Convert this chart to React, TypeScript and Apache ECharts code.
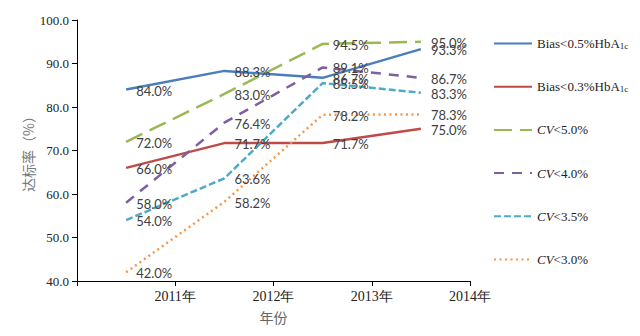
import React, { useEffect, useRef } from "react";
import * as echarts from "echarts";

const years = ["2011年", "2012年", "2013年", "2014年"];
const bias05 = [84.0, 88.3, 86.7, 93.3];
const bias03 = [66.0, 71.7, 71.7, 75.0];
const cv50 = [72.0, 83.0, 94.5, 95.0];
const cv40 = [58.0, 76.4, 89.1, 86.7];
const cv35 = [54.0, 63.6, 85.5, 83.3];
const cv30 = [42.0, 58.2, 78.2, 78.3];

const seriesNames = [
  "Bias<0.5%HbA1c",
  "Bias<0.3%HbA1c",
  "CV<5.0%",
  "CV<4.0%",
  "CV<3.5%",
  "CV<3.0%",
];

const serif = "'Liberation Serif', 'Times New Roman', serif";

export default function App() {
  const ref = useRef<HTMLDivElement>(null);
  useEffect(() => {
    if (!ref.current) return;
    const chart = echarts.init(ref.current, undefined, { renderer: "svg" });
    const mk = (
      name: string,
      data: number[],
      color: string,
      type: any,
      cap: any = "butt"
    ) => ({
      name,
      type: "line",
      data,
      symbol: "circle",
      symbolSize: 2,
      showSymbol: true,
      color,
      itemStyle: { color, opacity: 0 },
      lineStyle: { color, width: 2.5, type, cap },
      label: {
        show: true,
        position: "right",
        distance: 5,
        offset: [4, 1],
        formatter: (p: any) => Number(p.value).toFixed(1) + "%",
        color: "#404040",
        opacity: 1,
        fontFamily: "Lato, 'Open Sans', sans-serif",
        fontSize: 13,
      },
    });
    chart.setOption({
      animation: false,
      backgroundColor: "#ffffff",
      grid: { left: 77, right: 170, top: 20, bottom: 55, containLabel: false },
      xAxis: {
        type: "category",
        data: years,
        boundaryGap: true,
        name: "年份",
        nameLocation: "middle",
        nameGap: 29,
        nameTextStyle: {
          color: "#666",
          fontSize: 14,
          fontFamily: "'Noto Sans CJK SC', sans-serif",
        },
        axisLine: { lineStyle: { color: "#000", width: 1 } },
        axisTick: { show: true, alignWithLabel: false, length: 5, lineStyle: { color: "#000" } },
        axisLabel: {
          interval: 0,
          color: "#222",
          fontFamily: serif,
          fontSize: 14,
          margin: 8,
          padding: [0, 0, 0, 98],
        },
        splitLine: { show: false },
      },
      yAxis: {
        type: "value",
        min: 40,
        max: 100,
        interval: 10,
        name: "达标率（%）",
        nameLocation: "middle",
        nameGap: 42,
        nameMoveOverlap: false,
        nameRotate: 90,
        nameTextStyle: {
          color: "#777",
          fontSize: 14,
          fontFamily: "'Noto Sans CJK SC', sans-serif",
        },
        axisLine: { show: true, lineStyle: { color: "#000", width: 1 } },
        axisTick: { show: true, length: 5, lineStyle: { color: "#000" } },
        axisLabel: {
          color: "#222",
          fontFamily: serif,
          fontSize: 13,
          margin: 8,
          formatter: (v: number) => v.toFixed(1),
        },
        splitLine: { show: false },
      },
      legend: {
        orient: "vertical",
        left: 493,
        top: 37,
        padding: 0,
        itemWidth: 38,
        itemHeight: 14,
        itemGap: 30.2,
        data: seriesNames,
        itemStyle: { opacity: 0 },
        formatter: (n: string) => {
          if (n.startsWith("Bias")) return n.replace("HbA1c", "HbA{sub|1c}");
          return "{i|CV}" + n.slice(2);
        },
        textStyle: {
          color: "#222",
          fontFamily: serif,
          fontSize: 13,
          rich: {
            sub: { fontSize: 9, fontFamily: serif, color: "#222", verticalAlign: "bottom" },
            i: { fontStyle: "italic", fontFamily: serif, fontSize: 13, color: "#222" },
          },
        },
      },
      series: [
        mk(seriesNames[0], bias05, "#4a7ebb", "solid"),
        mk(seriesNames[1], bias03, "#be4b48", "solid"),
        mk(seriesNames[2], cv50, "#98b954", [18, 8]),
        mk(seriesNames[3], cv40, "#7d60a0", [10, 8]),
        mk(seriesNames[4], cv35, "#4bacc6", [7, 3]),
        mk(seriesNames[5], cv30, "#f79646", [2, 3.5]),
      ],
    });
    return () => chart.dispose();
  }, []);
  return (
    <div
      ref={ref}
      style={{ position: "absolute", left: 0, top: 0, width: 640, height: 336 }}
    />
  );
}
